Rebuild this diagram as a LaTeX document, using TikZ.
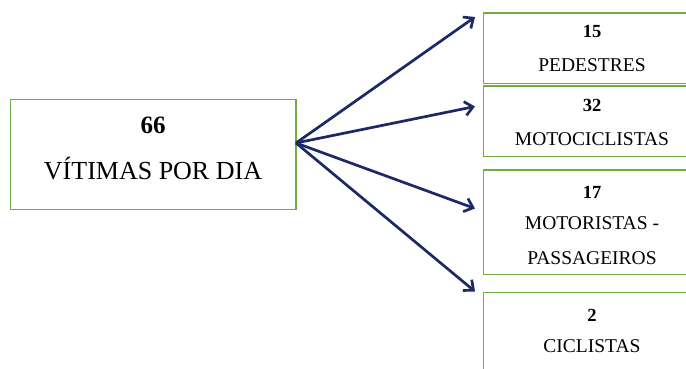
\documentclass[tikz,border=0pt]{standalone}
\usepackage{fontspec}
\setmainfont{Liberation Serif}
\usetikzlibrary{arrows.meta}
\definecolor{boxgreen}{HTML}{70AD47}
\definecolor{arrownavy}{HTML}{1B2A66}
\begin{document}
\begin{tikzpicture}[x=1pt,y=-1pt,
  box/.style={draw=boxgreen,line width=1.7pt,fill=white,rectangle,inner sep=0pt,outer sep=0pt},
  big/.style={font=\fontsize{26}{30}\selectfont,inner sep=0pt,anchor=base},
  bignum/.style={font=\fontsize{25}{30}\selectfont\bfseries,inner sep=0pt,anchor=base},
  small/.style={font=\fontsize{19.5}{22}\selectfont,inner sep=0pt,anchor=base},
  smallnum/.style={font=\fontsize{18.5}{22}\selectfont\bfseries,inner sep=0pt,anchor=base},
  conn/.style={draw=arrownavy,line width=2.7pt,-{Straight Barb[length=8pt,width=14pt,line width=2.7pt]}}]
\useasboundingbox (0,0) rectangle (686,369);
\clip (0,0) rectangle (686,369);
% boxes
\node[box,minimum width=285.5pt,minimum height=110pt] (main) at (153.25,154.5) {};
\node[box,minimum width=218.5pt,minimum height=70.5pt] (b1) at (592.75,48.25) {};
\node[box,minimum width=218.5pt,minimum height=70.5pt] (b2) at (592.75,121.25) {};
\node[box,minimum width=218.5pt,minimum height=104.5pt] (b3) at (592.75,222.25) {};
\node[box,minimum width=218.5pt,minimum height=92.5pt] (b4) at (592.75,338.75) {};
% texts
\node[bignum] (n66) at (153,133) {66};
\node[big] (lab66) at (153,179) {VÍTIMAS POR DIA};
\node[smallnum] (n15) at (592,38) {15};
\node[small] (lab15) at (592,71.5) {PEDESTRES};
\node[smallnum] (n32) at (592,111) {32};
\node[small] (lab32) at (592,145) {MOTOCICLISTAS};
\node[smallnum] (n17) at (592,198) {17};
\node[small] (lab17a) at (592,229) {MOTORISTAS -};
\node[small] (lab17b) at (592,264) {PASSAGEIROS};
\node[smallnum] (n2) at (592,321) {2};
\node[small] (lab2) at (592,352) {CICLISTAS};
% arrows
\coordinate (o) at (296,143);
\coordinate (t1) at (475,17);
\coordinate (t2) at (475,106.5);
\coordinate (t3) at (475,208.5);
\coordinate (t4) at (475,291.5);
\draw[conn] (o) -- (t1);
\draw[conn] (o) -- (t2);
\draw[conn] (o) -- (t3);
\draw[conn] (o) -- (t4);
\end{tikzpicture}
\end{document}
